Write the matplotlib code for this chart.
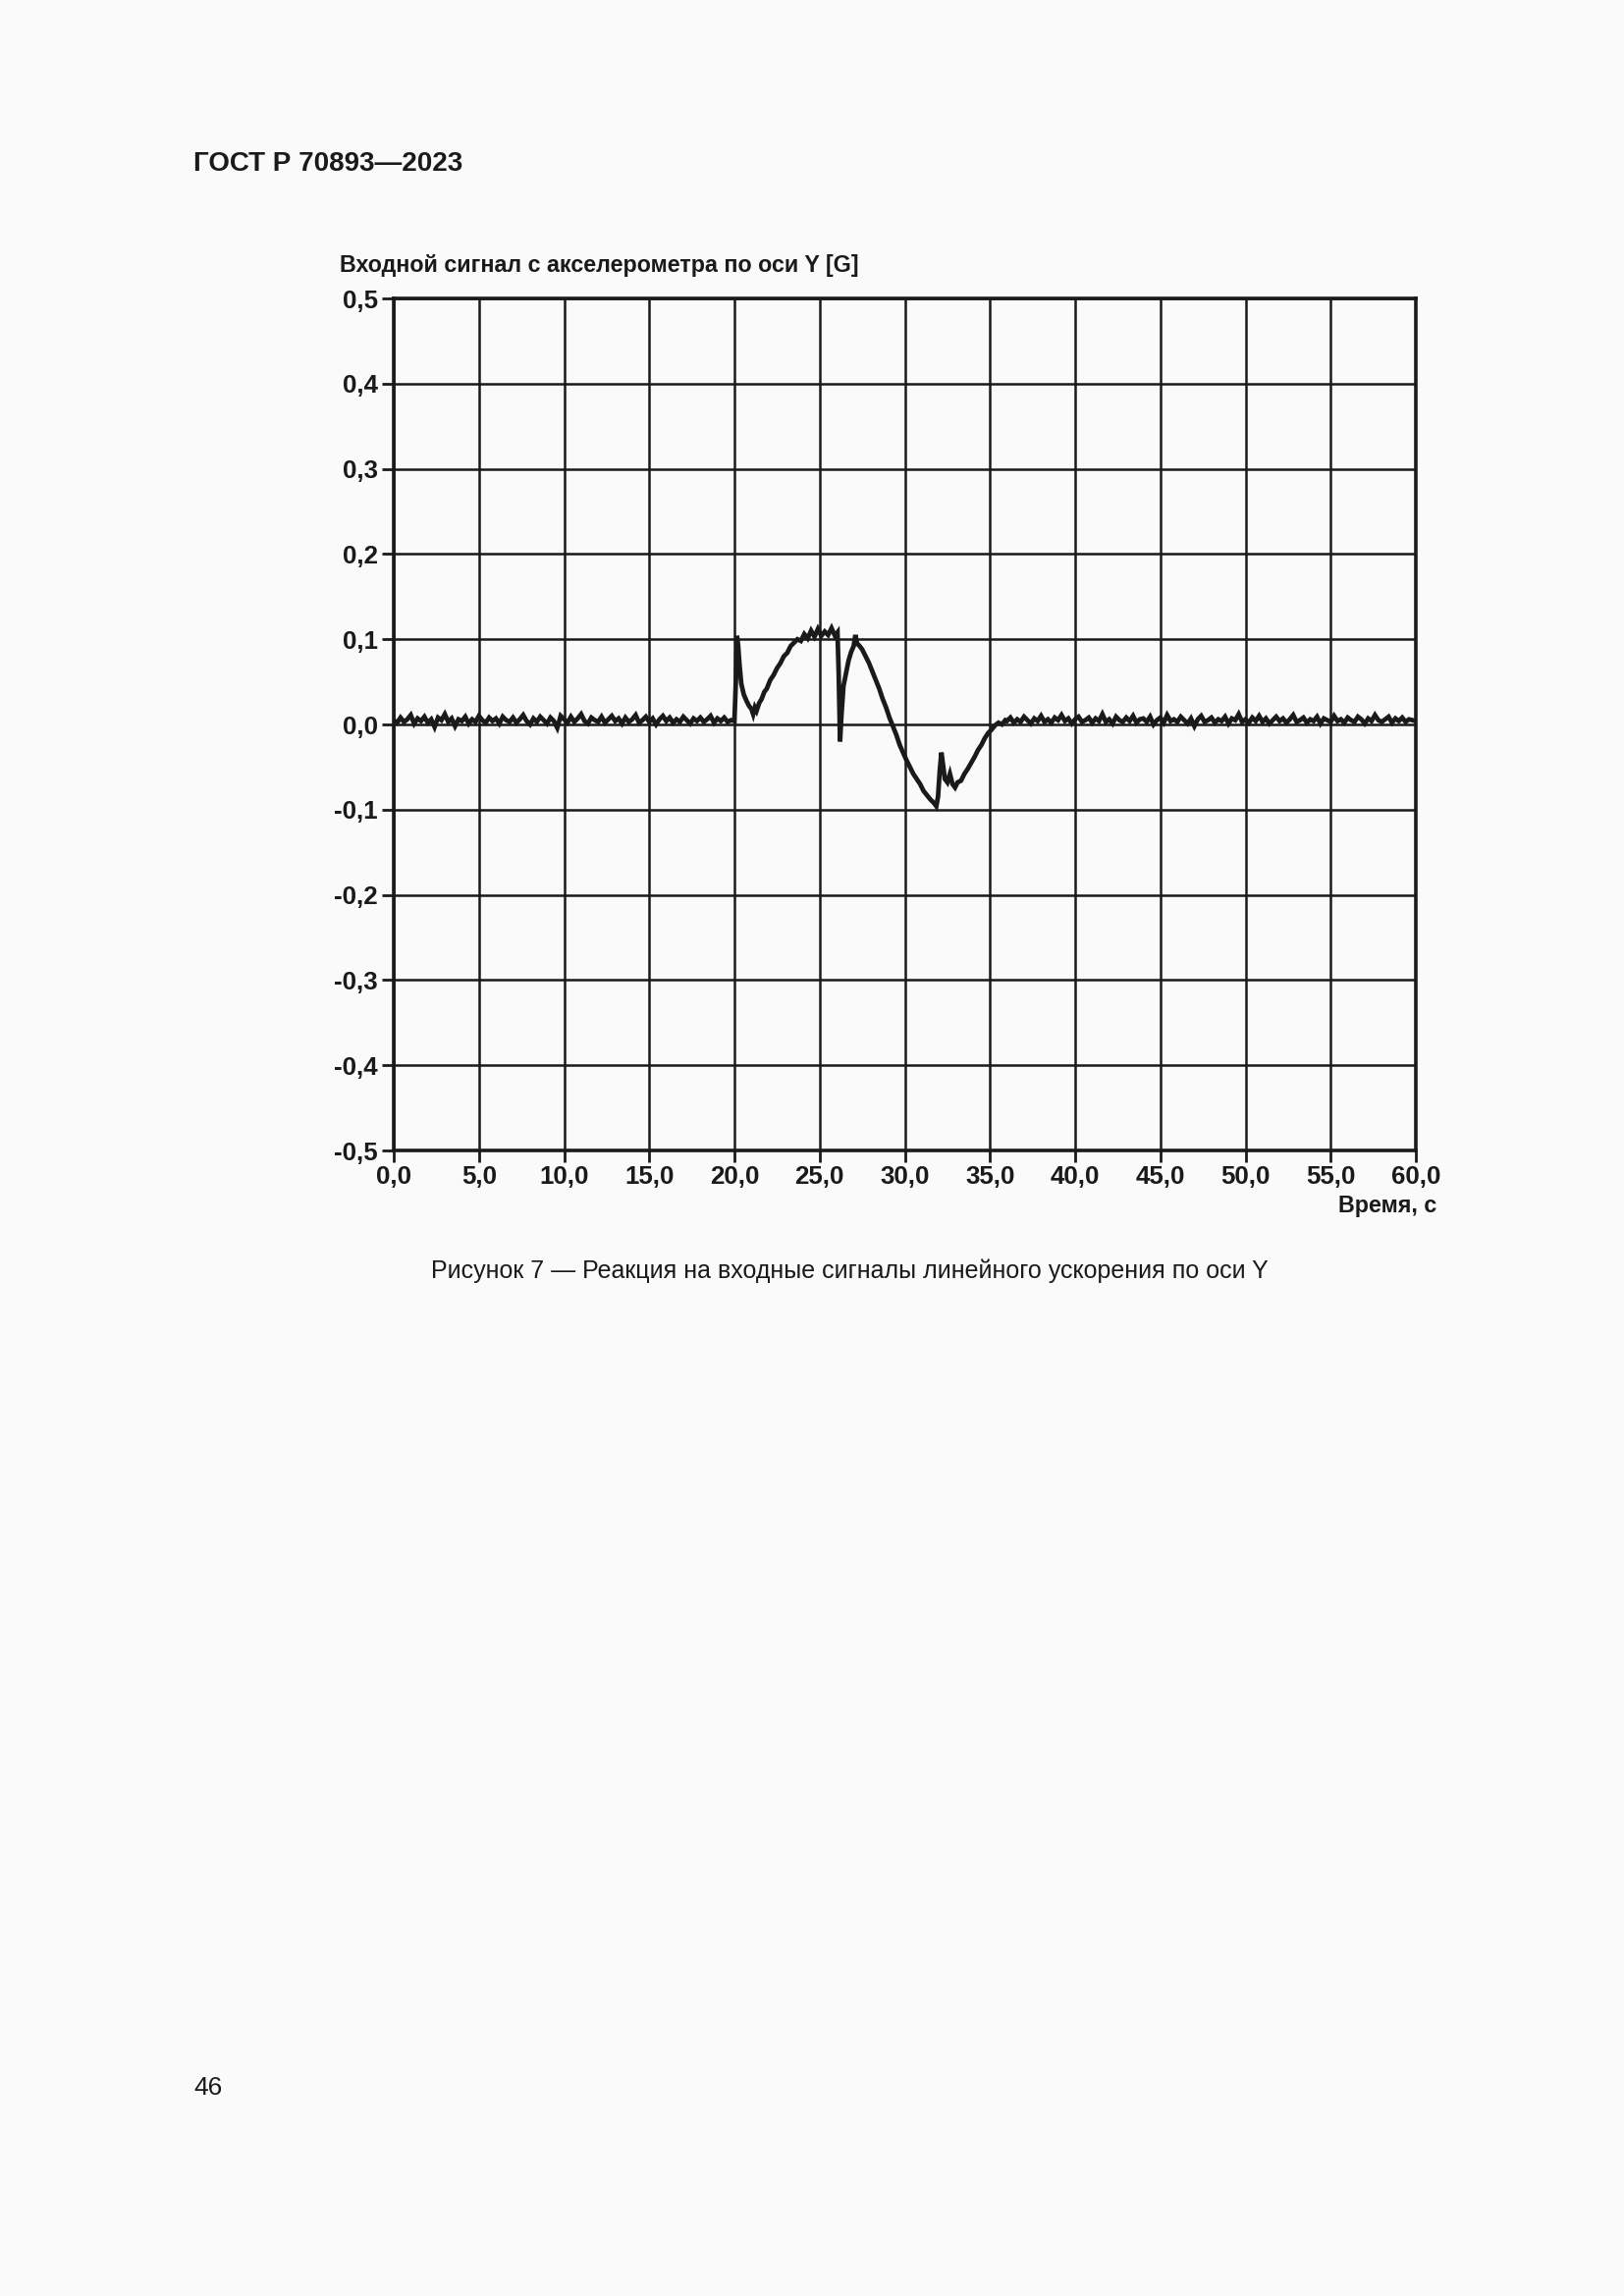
import numpy as np
import matplotlib
matplotlib.use("Agg")
import matplotlib.pyplot as plt
from matplotlib.ticker import FuncFormatter

# baseline before the event, mG, one sample every 0.2 s from 0.0 to 19.8 s
pre_event_mg = [
    5, 2, 8, 3, 6, 11, 1, 7, 4, 9,
    2, 6, -3, 8, 5, 12, 3, 7, -2, 6,
    4, 9, 1, 6, 3, 10, 5, 2, 8, 4,
    7, 1, 9, 5, 3, 8, 2, 6, 11, 4,
    0, 7, 3, 9, 5, 1, 8, 4, -4, 10,
    6, 2, 9, 3, 7, 12, 4, 1, 8, 5,
    3, 9, 2, 6, 10, 4, 7, 1, 8, 3,
    6, 11, 2, 5, 9, 3, 7, 0, 6, 10,
    4, 8, 2, 6, 3, 9, 5, 1, 7, 4,
    8, 3, 6, 10, 2, 7, 4, 8, 3, 5,
]

# the event itself, read point by point (s, G)
event_t = [
    20.0, 20.1, 20.15, 20.22, 20.3, 20.4, 20.55, 20.7, 20.85, 21.0,
    21.1, 21.2, 21.3, 21.45, 21.6, 21.75, 21.9, 22.1, 22.3, 22.5,
    22.7, 22.9, 23.1, 23.3, 23.5, 23.7, 23.9, 24.1, 24.3, 24.5,
    24.7, 24.9, 25.1, 25.3, 25.5, 25.7, 25.9, 26.05, 26.12, 26.2,
    26.28, 26.4, 26.55, 26.7, 26.85, 27.0, 27.1, 27.2, 27.35, 27.5,
    27.7, 27.9, 28.1, 28.3, 28.5, 28.7, 28.9, 29.1, 29.3, 29.5,
    29.7, 29.9, 30.1, 30.3, 30.5, 30.7, 30.9, 31.1, 31.3, 31.5,
    31.7, 31.85, 31.95, 32.05, 32.15, 32.25, 32.35, 32.5, 32.65, 32.8,
    32.95, 33.1, 33.3, 33.5, 33.7, 33.9, 34.1, 34.3, 34.5, 34.7,
    34.9, 35.1, 35.3, 35.5, 35.7, 35.9,
]
event_g = [
    0.004, 0.060, 0.104, 0.092, 0.070, 0.048, 0.035, 0.028, 0.022, 0.018,
    0.012, 0.020, 0.016, 0.025, 0.030, 0.038, 0.042, 0.052, 0.058, 0.066,
    0.072, 0.080, 0.084, 0.092, 0.096, 0.100, 0.098, 0.106, 0.101, 0.110,
    0.103, 0.112, 0.104, 0.109, 0.105, 0.113, 0.104, 0.108, 0.060, -0.020,
    0.010, 0.045, 0.060, 0.075, 0.085, 0.092, 0.105, 0.095, 0.092, 0.088,
    0.080, 0.072, 0.062, 0.052, 0.042, 0.030, 0.020, 0.008, -0.002, -0.012,
    -0.024, -0.033, -0.042, -0.050, -0.058, -0.064, -0.070, -0.078, -0.083, -0.088,
    -0.092, -0.096, -0.085, -0.055, -0.033, -0.048, -0.064, -0.068, -0.058, -0.070,
    -0.074, -0.068, -0.066, -0.058, -0.052, -0.045, -0.038, -0.030, -0.024, -0.016,
    -0.010, -0.006, -0.001, 0.002, 0.000, 0.005,
]

# baseline after the event, mG, one sample every 0.2 s from 36.0 to 60.0 s
post_event_mg = [
    4, 8, 2, 6, 3, 9, 5, 1, 7, 4,
    10, 3, 6, 2, 8, 5, 11, 4, 7, 1,
    6, 9, 3, 5, 8, 2, 7, 4, 12, 3,
    6, 1, 9, 5, 3, 8, 4, 10, 2, 6,
    7, 3, 9, 0, 5, 8, 2, 11, 4, 6,
    3, 9, 5, 1, 7, -2, 6, 10, 3, 5,
    8, 2, 6, 4, 9, 1, 7, 5, 12, 3,
    6, 2, 8, 4, 10, 3, 7, 1, 5, 9,
    4, 7, 2, 6, 11, 3, 5, 8, 2, 6,
    4, 9, 1, 7, 5, 3, 10, 4, 6, 2,
    8, 5, 3, 9, 6, 1, 7, 4, 11, 5,
    3, 6, 9, 2, 7, 4, 8, 3, 6, 5, 4,
]

x_ticks = [0, 5, 10, 15, 20, 25, 30, 35, 40, 45, 50, 55, 60]
y_ticks = [-0.5, -0.4, -0.3, -0.2, -0.1, 0.0, 0.1, 0.2, 0.3, 0.4, 0.5]

header = "ГОСТ Р 70893—2023"
y_title = "Входной сигнал с акселерометра по оси Y [G]"
x_title = "Время, с"
caption = "Рисунок 7 — Реакция на входные сигналы линейного ускорения по оси Y"
page_no = "46"

INK = "#1a1a1a"
PAPER = "#fafafa"


def build_series():
    t_pre = np.linspace(0.0, 19.8, len(pre_event_mg))
    t_post = np.linspace(36.0, 60.0, len(post_event_mg))
    t = np.concatenate([t_pre, event_t, t_post])
    g = np.concatenate([np.array(pre_event_mg) / 1000.0, event_g,
                        np.array(post_event_mg) / 1000.0])
    return t, g


def comma(fmt):
    return FuncFormatter(lambda v, _: (fmt % v).replace(".", ",").replace("-0,0", "0,0"))


def main():
    plt.rcParams["font.family"] = ["Liberation Sans", "DejaVu Sans"]
    fig = plt.figure(figsize=(1654 / 200, 2339 / 200), dpi=200, facecolor=PAPER)
    ax = fig.add_axes([401 / 1654, 1 - 1172 / 2339, 1041 / 1654, 868 / 2339])
    ax.set_facecolor(PAPER)

    t, g = build_series()
    ax.plot(t, g, color=INK, lw=1.7, solid_joinstyle="miter", zorder=3)

    ax.set_xlim(0, 60)
    ax.set_ylim(-0.5, 0.5)
    ax.set_xticks(x_ticks)
    ax.set_yticks(y_ticks)
    ax.xaxis.set_major_formatter(comma("%.1f"))
    ax.yaxis.set_major_formatter(comma("%.1f"))
    ax.grid(True, color=INK, lw=0.9)
    ax.set_axisbelow(True)
    for s in ax.spines.values():
        s.set_color(INK)
        s.set_linewidth(1.3)
    ax.tick_params(direction="out", length=4.3, width=1.0, color=INK,
                   labelsize=9.3, labelcolor=INK)
    ax.tick_params(axis="y", pad=1.5)
    ax.tick_params(axis="x", pad=1.0)
    for lab in ax.get_xticklabels() + ax.get_yticklabels():
        lab.set_fontweight("bold")

    fig.text(346 / 1654, 1 - 271 / 2339, y_title, fontsize=8.4, fontweight="bold",
             color=INK, ha="left", va="center")
    fig.text(1463 / 1654, 1 - 1229 / 2339, x_title, fontsize=8.4, fontweight="bold",
             color=INK, ha="right", va="center")
    fig.text(197 / 1654, 1 - 167 / 2339, header, fontsize=10, fontweight="bold",
             color=INK, ha="left", va="center")
    fig.text(865 / 1654, 1 - 1295 / 2339, caption, fontsize=9.0,
             color=INK, ha="center", va="center")
    fig.text(197 / 1654, 1 - 2127 / 2339, page_no, fontsize=9.5,
             color=INK, ha="left", va="center")

    fig.savefig("out.png", dpi=200, facecolor=PAPER)


if __name__ == "__main__":
    main()
